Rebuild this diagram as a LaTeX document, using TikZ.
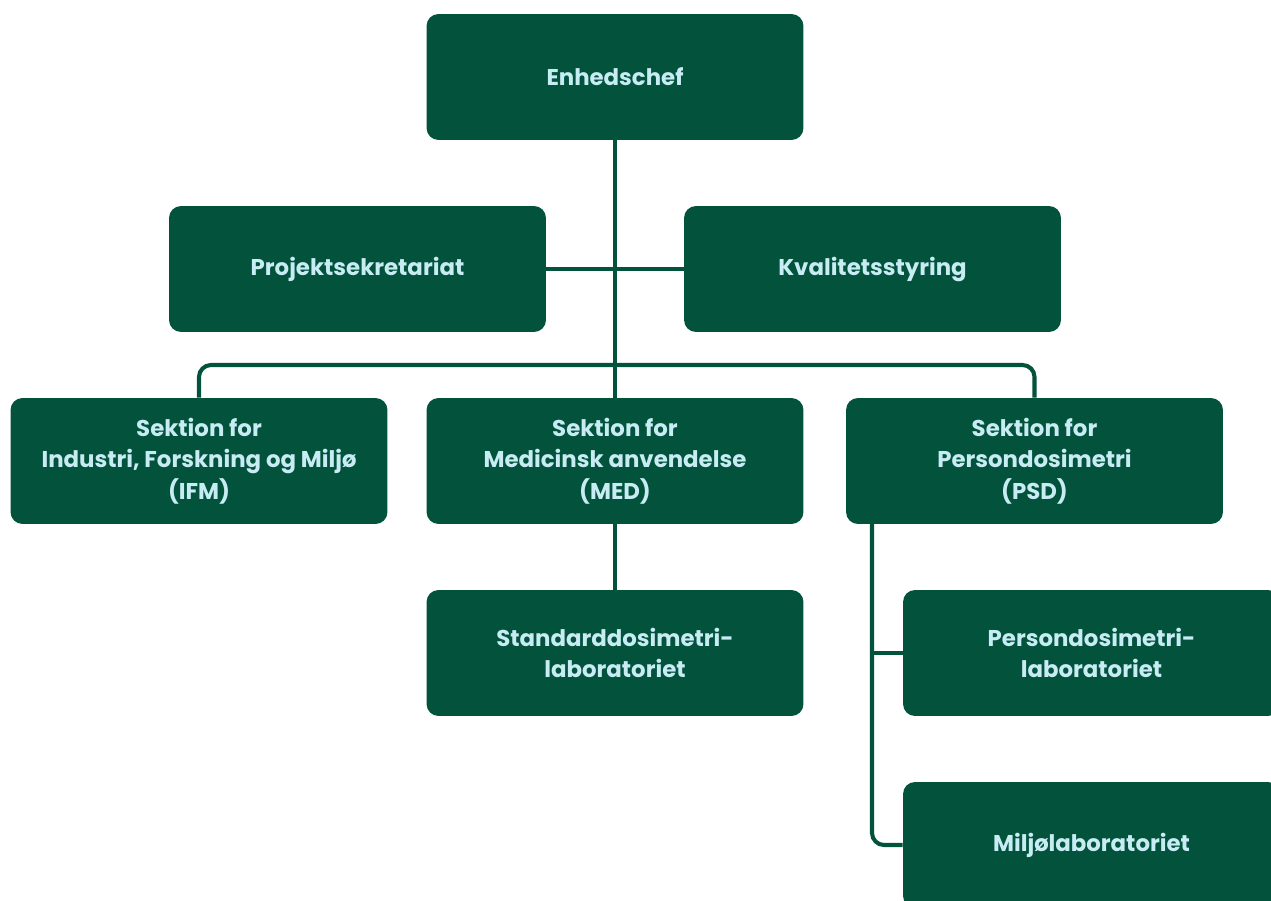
\documentclass[tikz,border=0pt]{standalone}
\usepackage{fontspec}
\setmainfont{Poppins}
\definecolor{unitgreen}{HTML}{02523C}
\definecolor{unittext}{HTML}{C8ECF4}
\tikzset{
  unit/.style={fill=unitgreen, text=unittext, rounded corners=0.24cm,
    minimum width=7.54cm, minimum height=2.52cm, align=center,
    font=\fontsize{13}{17.9}\selectfont\bfseries},
  link/.style={draw=unitgreen, line width=2.3pt}
}
\begin{document}
\begin{tikzpicture}[x=0.02cm,y=-0.02cm]
      \useasboundingbox (0,0) rectangle (1271,901);
      \clip (0,0) rectangle (1271,901);
      \node[unit] (boss) at (615,77) {Enhedschef};
      \node[unit] (proj) at (357.5,269) {Projektsekretariat};
      \node[unit] (qual) at (872.5,269) {Kvalitetsstyring};
      \node[unit] (ifm) at (199,461) {Sektion for\\Industri, Forskning og Miljø\\(IFM)};
      \node[unit] (med) at (615,461) {Sektion for\\Medicinsk anvendelse\\(MED)};
      \node[unit] (psd) at (1034.5,461) {Sektion for\\Persondosimetri\\(PSD)};
      \node[unit] (std) at (615,653) {Standarddosimetri-\\laboratoriet};
      \node[unit] (perlab) at (1091.5,653) {Persondosimetri-\\laboratoriet};
      \node[unit] (envlab) at (1091.5,845) {Miljølaboratoriet};
      \coordinate (bus) at (615,365);
      \coordinate (tap) at (872,524);
      \begin{scope}[link]
        \draw (boss) -- (med);
        \draw (proj) -- (qual);
        \draw[rounded corners=0.24cm] (ifm.north) |- (bus) -| (psd.north);
        \draw (med) -- (std);
        \draw[rounded corners=0.24cm] (tap) |- (envlab.west);
        \draw (perlab.west) -- (perlab.west -| tap);
      \end{scope}
    \end{tikzpicture}
\end{document}
